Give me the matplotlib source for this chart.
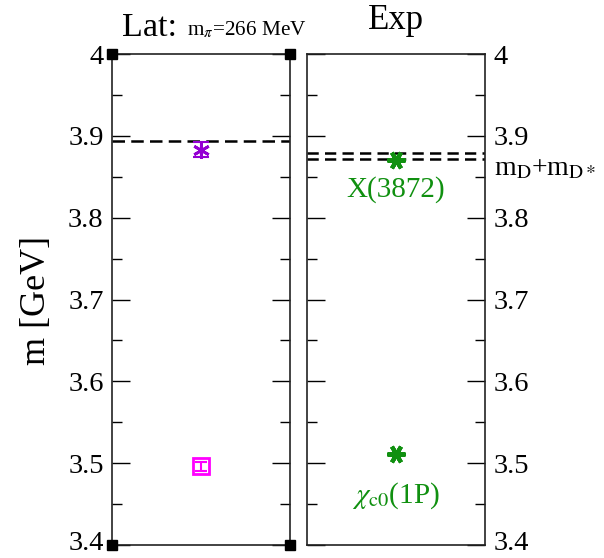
import numpy as np
import matplotlib
matplotlib.use("Agg")
import matplotlib.pyplot as plt
import matplotlib.transforms as mtransforms
from matplotlib.ticker import MultipleLocator

plt.rcParams['font.family'] = ['Liberation Serif', 'DejaVu Serif']
plt.rcParams['mathtext.fontset'] = 'stix'

# lattice (m_pi = 266 MeV)
lat_mass = [3.883, 3.496]
lat_err = [0.009, 0.005]
lat_color = ['#9400d3', '#ff00ff']
lat_marker = [(6, 2, 0), 's']
lat_thr = 3.894

# experiment
exp_mass = [3.8705, 3.511]
exp_name = ['X(3872)', r'$\chi_{\rm c0}$(1P)']
exp_label_y = [3.826, 3.452]
exp_thr = [3.8786, 3.8716]

yticks = [3.4, 3.5, 3.6, 3.7, 3.8, 3.9, 4.0]
ytick_lbl = ['3.4', '3.5', '3.6', '3.7', '3.8', '3.9', '4']
corners = [(0, 3.4), (1, 3.4), (0, 4.0), (1, 4.0)]

green = '#109010'
fs_tick = 20.5

fig = plt.figure(figsize=(6.04, 5.58), dpi=100)
ax1 = fig.add_axes([0.1854, 0.0233, 0.2947, 0.8799])
ax2 = fig.add_axes([0.5083, 0.0233, 0.2947, 0.8799])

for ax in (ax1, ax2):
    ax.set_xlim(0, 1)
    ax.set_ylim(3.4, 4.0)
    ax.set_xticks([])
    ax.yaxis.set_major_locator(MultipleLocator(0.1))
    ax.yaxis.set_minor_locator(MultipleLocator(0.05))
    ax.set_yticks(yticks)
    ax.set_yticklabels(ytick_lbl)
    ax.tick_params(axis='y', which='major', direction='in', length=13, width=1,
                   left=True, right=True, labelsize=fs_tick, pad=6)
    ax.tick_params(axis='y', which='minor', direction='in', length=7, width=1,
                   left=True, right=True)
    for s in ax.spines.values():
        s.set_linewidth(1.2)
        s.set_color('#222222')

ax1.tick_params(axis='y', labelleft=True, labelright=False)
ax2.tick_params(axis='y', labelleft=False, labelright=True)

# bottom labels sit a little higher so they stay inside the picture
shift = mtransforms.ScaledTranslation(0, 3 / 72, fig.dpi_scale_trans)
for ax in (ax1, ax2):
    fig.canvas.draw()
    for lbl in ax.get_yticklabels():
        if lbl.get_text() == '3.4':
            lbl.set_transform(lbl.get_transform() + shift)

# lattice panel
ax1.axhline(lat_thr, color='k', ls=(0, (5, 2.5)), lw=1.8)
for m, e, c, mk in zip(lat_mass, lat_err, lat_color, lat_marker):
    ax1.errorbar([0.5], [m], yerr=[e], fmt='none', ecolor=c, elinewidth=1.5,
                 capsize=6 if mk != 's' else 4, capthick=1.5)
    ax1.plot([0.5], [m], marker=mk, ms=12, mfc='none', mec=c, mew=2, ls='none')
for cx, cy in corners:
    ax1.plot(cx, cy, marker='s', ms=7, color='k', clip_on=False, zorder=5)

# experiment panel
for t in exp_thr:
    ax2.axhline(t, color='k', ls=(0, (4.5, 2.5)), lw=1.8)
for m, n, ly in zip(exp_mass, exp_name, exp_label_y):
    ax2.plot([0.5], [m], marker=(6, 2, 90), ms=13, mew=3, color=green, ls='none')
    ax2.text(0.5, ly, n, color=green, fontsize=21, ha='center', va='baseline')

ax2.text(1.05, 3.852, r'm$_{\rm D}$+m$_{\rm D*}$', transform=ax2.get_yaxis_transform(),
         fontsize=20, ha='left', va='baseline', clip_on=False)

fig.text(0.202, 0.9355, 'Lat:', fontsize=24.5, ha='left', va='baseline')
fig.text(0.310, 0.9375, r'm$_{\pi}$=266 MeV', fontsize=15.3, ha='left', va='baseline')
fig.text(0.6557, 0.948, 'Exp', fontsize=25, ha='center', va='baseline')
fig.text(0.061, 0.462, 'm [GeV]', fontsize=26, rotation=90, ha='center', va='center')

fig.savefig('out.png', dpi=100)
